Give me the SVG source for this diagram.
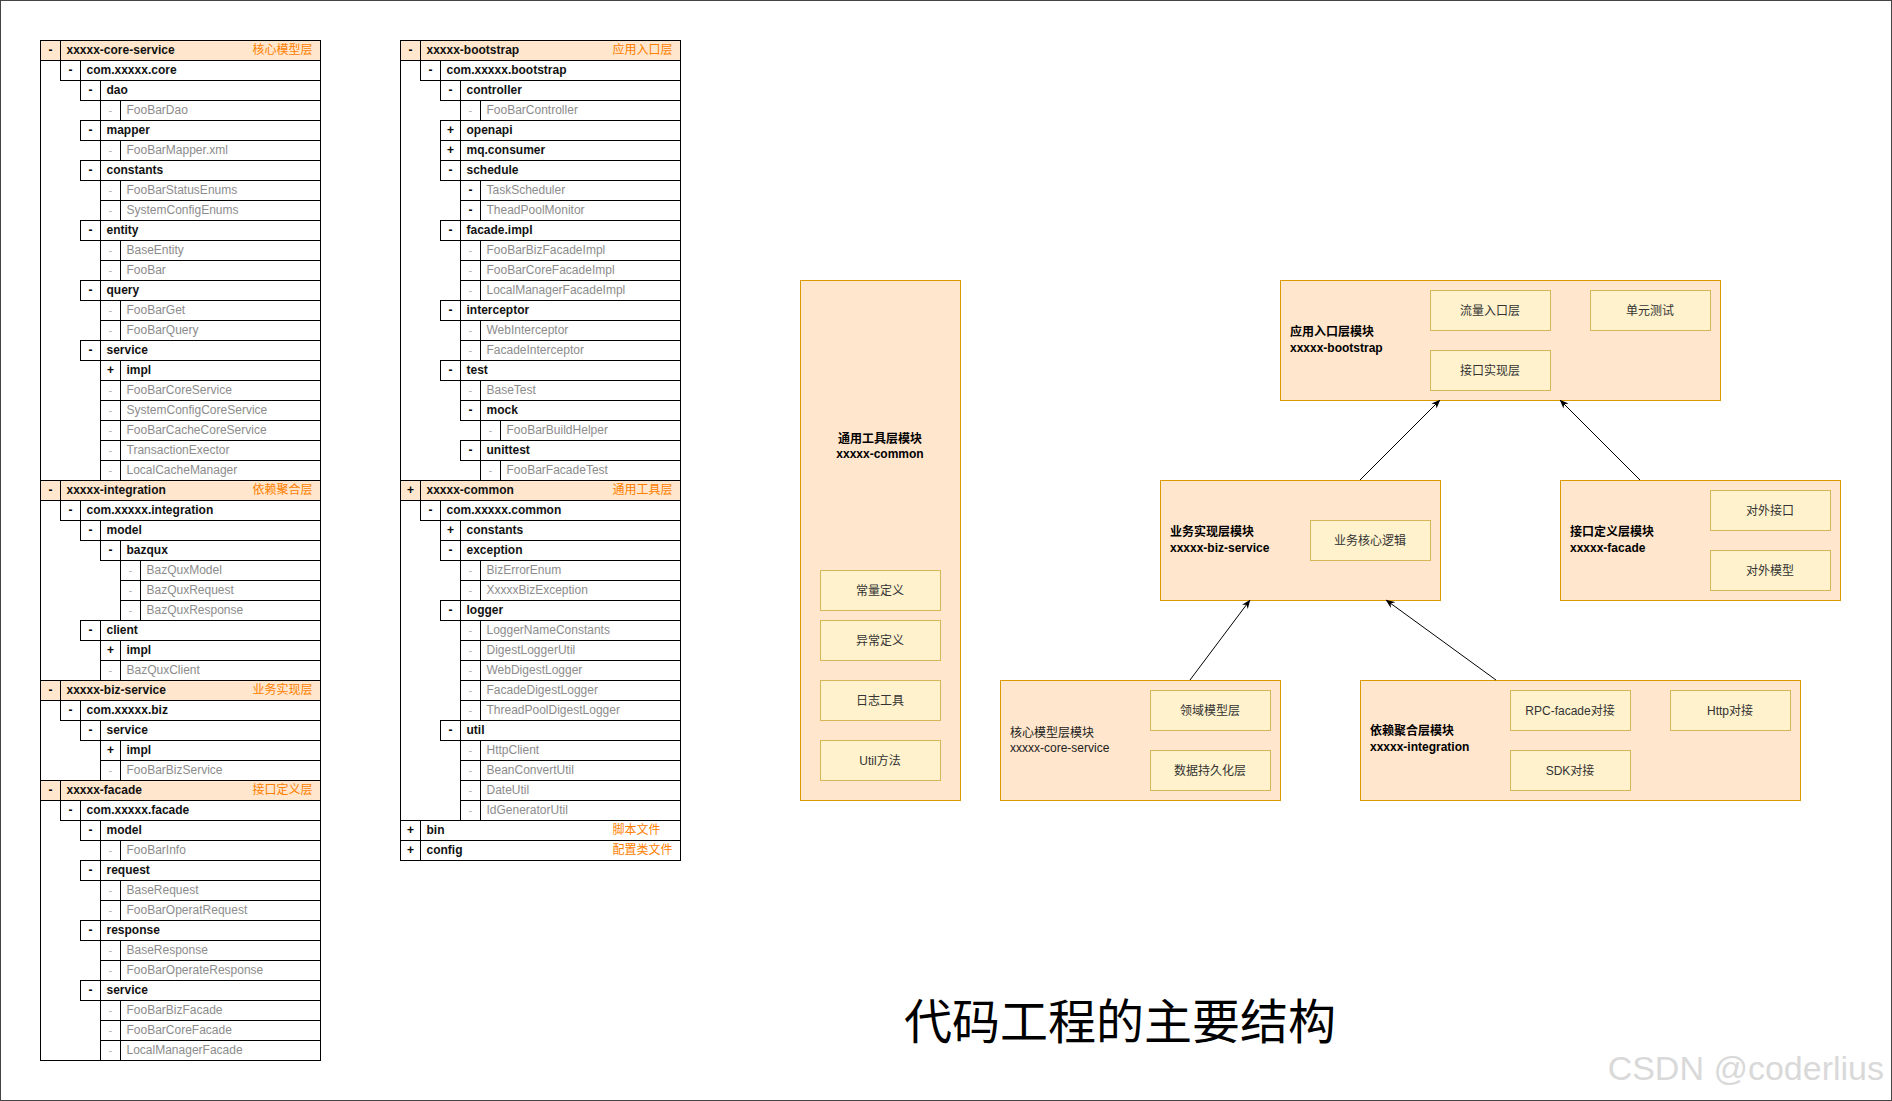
<svg xmlns="http://www.w3.org/2000/svg" width="1892" height="1101" viewBox="0 0 1892 1101">
<style>
text{font-family:"Liberation Sans","Noto Sans CJK SC",sans-serif;font-size:12px}
.row rect{fill:none;stroke:#000;stroke-width:1}
.row line{stroke:#000;stroke-width:1}
.hdr rect{fill:#FFE6CC}
.s{text-anchor:middle;font-weight:bold;fill:#000}
.sg{text-anchor:middle;fill:#aaa;font-size:10px}
.f{font-weight:bold;fill:#111}
.g{fill:#8c8c8c}
.cn{fill:#FF8000}
.frame{fill:none;stroke:#000;stroke-width:1}
.mod rect.o{fill:#FFE6CC;stroke:#D79B00;stroke-width:1}
.sub rect{fill:#FFF2CC;stroke:#D6B656;stroke-width:1}
.sub text{text-anchor:middle;fill:#333}
.lb{font-weight:bold;fill:#000}
.lr{fill:#222}
.conn line{stroke:#000;stroke-width:1}
</style>
<defs>
<marker id="arr" viewBox="0 0 10 10" refX="9.5" refY="5" markerWidth="9" markerHeight="9" orient="auto" markerUnits="userSpaceOnUse">
<path d="M0,1 L10,5 L0,9 L3,5 z" fill="#000"/>
</marker>
</defs>
<rect x="0.5" y="0.5" width="1891" height="1100" fill="#fff" stroke="#444"/>

<g id="tree-core-service">
<g id="t1-r0" class="row hdr" transform="translate(40.5,40.5)"><rect width="280" height="20"/><line x1="20" x2="20" y2="20"/><text class="s" x="10" y="13.5">-</text><text class="f" x="26" y="13.5">xxxxx-core-service</text><text class="cn" x="212" y="13.5">核心模型层</text></g>
<g id="t1-r1" class="row" transform="translate(60.5,60.5)"><rect width="260" height="20"/><line x1="20" x2="20" y2="20"/><text class="s" x="10" y="13.5">-</text><text class="f" x="26" y="13.5">com.xxxxx.core</text></g>
<g id="t1-r2" class="row" transform="translate(80.5,80.5)"><rect width="240" height="20"/><line x1="20" x2="20" y2="20"/><text class="s" x="10" y="13.5">-</text><text class="f" x="26" y="13.5">dao</text></g>
<g id="t1-r3" class="row" transform="translate(100.5,100.5)"><rect width="220" height="20"/><line x1="20" x2="20" y2="20"/><text class="sg" x="10" y="13.5">-</text><text class="g" x="26" y="13.5">FooBarDao</text></g>
<g id="t1-r4" class="row" transform="translate(80.5,120.5)"><rect width="240" height="20"/><line x1="20" x2="20" y2="20"/><text class="s" x="10" y="13.5">-</text><text class="f" x="26" y="13.5">mapper</text></g>
<g id="t1-r5" class="row" transform="translate(100.5,140.5)"><rect width="220" height="20"/><line x1="20" x2="20" y2="20"/><text class="sg" x="10" y="13.5">-</text><text class="g" x="26" y="13.5">FooBarMapper.xml</text></g>
<g id="t1-r6" class="row" transform="translate(80.5,160.5)"><rect width="240" height="20"/><line x1="20" x2="20" y2="20"/><text class="s" x="10" y="13.5">-</text><text class="f" x="26" y="13.5">constants</text></g>
<g id="t1-r7" class="row" transform="translate(100.5,180.5)"><rect width="220" height="20"/><line x1="20" x2="20" y2="20"/><text class="sg" x="10" y="13.5">-</text><text class="g" x="26" y="13.5">FooBarStatusEnums</text></g>
<g id="t1-r8" class="row" transform="translate(100.5,200.5)"><rect width="220" height="20"/><line x1="20" x2="20" y2="20"/><text class="sg" x="10" y="13.5">-</text><text class="g" x="26" y="13.5">SystemConfigEnums</text></g>
<g id="t1-r9" class="row" transform="translate(80.5,220.5)"><rect width="240" height="20"/><line x1="20" x2="20" y2="20"/><text class="s" x="10" y="13.5">-</text><text class="f" x="26" y="13.5">entity</text></g>
<g id="t1-r10" class="row" transform="translate(100.5,240.5)"><rect width="220" height="20"/><line x1="20" x2="20" y2="20"/><text class="sg" x="10" y="13.5">-</text><text class="g" x="26" y="13.5">BaseEntity</text></g>
<g id="t1-r11" class="row" transform="translate(100.5,260.5)"><rect width="220" height="20"/><line x1="20" x2="20" y2="20"/><text class="sg" x="10" y="13.5">-</text><text class="g" x="26" y="13.5">FooBar</text></g>
<g id="t1-r12" class="row" transform="translate(80.5,280.5)"><rect width="240" height="20"/><line x1="20" x2="20" y2="20"/><text class="s" x="10" y="13.5">-</text><text class="f" x="26" y="13.5">query</text></g>
<g id="t1-r13" class="row" transform="translate(100.5,300.5)"><rect width="220" height="20"/><line x1="20" x2="20" y2="20"/><text class="sg" x="10" y="13.5">-</text><text class="g" x="26" y="13.5">FooBarGet</text></g>
<g id="t1-r14" class="row" transform="translate(100.5,320.5)"><rect width="220" height="20"/><line x1="20" x2="20" y2="20"/><text class="sg" x="10" y="13.5">-</text><text class="g" x="26" y="13.5">FooBarQuery</text></g>
<g id="t1-r15" class="row" transform="translate(80.5,340.5)"><rect width="240" height="20"/><line x1="20" x2="20" y2="20"/><text class="s" x="10" y="13.5">-</text><text class="f" x="26" y="13.5">service</text></g>
<g id="t1-r16" class="row" transform="translate(100.5,360.5)"><rect width="220" height="20"/><line x1="20" x2="20" y2="20"/><text class="s" x="10" y="13.5">+</text><text class="f" x="26" y="13.5">impl</text></g>
<g id="t1-r17" class="row" transform="translate(100.5,380.5)"><rect width="220" height="20"/><line x1="20" x2="20" y2="20"/><text class="sg" x="10" y="13.5">-</text><text class="g" x="26" y="13.5">FooBarCoreService</text></g>
<g id="t1-r18" class="row" transform="translate(100.5,400.5)"><rect width="220" height="20"/><line x1="20" x2="20" y2="20"/><text class="sg" x="10" y="13.5">-</text><text class="g" x="26" y="13.5">SystemConfigCoreService</text></g>
<g id="t1-r19" class="row" transform="translate(100.5,420.5)"><rect width="220" height="20"/><line x1="20" x2="20" y2="20"/><text class="sg" x="10" y="13.5">-</text><text class="g" x="26" y="13.5">FooBarCacheCoreService</text></g>
<g id="t1-r20" class="row" transform="translate(100.5,440.5)"><rect width="220" height="20"/><line x1="20" x2="20" y2="20"/><text class="sg" x="10" y="13.5">-</text><text class="g" x="26" y="13.5">TransactionExector</text></g>
<g id="t1-r21" class="row" transform="translate(100.5,460.5)"><rect width="220" height="20"/><line x1="20" x2="20" y2="20"/><text class="sg" x="10" y="13.5">-</text><text class="g" x="26" y="13.5">LocalCacheManager</text></g>
<g id="t1-r22" class="row hdr" transform="translate(40.5,480.5)"><rect width="280" height="20"/><line x1="20" x2="20" y2="20"/><text class="s" x="10" y="13.5">-</text><text class="f" x="26" y="13.5">xxxxx-integration</text><text class="cn" x="212" y="13.5">依赖聚合层</text></g>
<g id="t1-r23" class="row" transform="translate(60.5,500.5)"><rect width="260" height="20"/><line x1="20" x2="20" y2="20"/><text class="s" x="10" y="13.5">-</text><text class="f" x="26" y="13.5">com.xxxxx.integration</text></g>
<g id="t1-r24" class="row" transform="translate(80.5,520.5)"><rect width="240" height="20"/><line x1="20" x2="20" y2="20"/><text class="s" x="10" y="13.5">-</text><text class="f" x="26" y="13.5">model</text></g>
<g id="t1-r25" class="row" transform="translate(100.5,540.5)"><rect width="220" height="20"/><line x1="20" x2="20" y2="20"/><text class="s" x="10" y="13.5">-</text><text class="f" x="26" y="13.5">bazqux</text></g>
<g id="t1-r26" class="row" transform="translate(120.5,560.5)"><rect width="200" height="20"/><line x1="20" x2="20" y2="20"/><text class="sg" x="10" y="13.5">-</text><text class="g" x="26" y="13.5">BazQuxModel</text></g>
<g id="t1-r27" class="row" transform="translate(120.5,580.5)"><rect width="200" height="20"/><line x1="20" x2="20" y2="20"/><text class="sg" x="10" y="13.5">-</text><text class="g" x="26" y="13.5">BazQuxRequest</text></g>
<g id="t1-r28" class="row" transform="translate(120.5,600.5)"><rect width="200" height="20"/><line x1="20" x2="20" y2="20"/><text class="sg" x="10" y="13.5">-</text><text class="g" x="26" y="13.5">BazQuxResponse</text></g>
<g id="t1-r29" class="row" transform="translate(80.5,620.5)"><rect width="240" height="20"/><line x1="20" x2="20" y2="20"/><text class="s" x="10" y="13.5">-</text><text class="f" x="26" y="13.5">client</text></g>
<g id="t1-r30" class="row" transform="translate(100.5,640.5)"><rect width="220" height="20"/><line x1="20" x2="20" y2="20"/><text class="s" x="10" y="13.5">+</text><text class="f" x="26" y="13.5">impl</text></g>
<g id="t1-r31" class="row" transform="translate(100.5,660.5)"><rect width="220" height="20"/><line x1="20" x2="20" y2="20"/><text class="sg" x="10" y="13.5">-</text><text class="g" x="26" y="13.5">BazQuxClient</text></g>
<g id="t1-r32" class="row hdr" transform="translate(40.5,680.5)"><rect width="280" height="20"/><line x1="20" x2="20" y2="20"/><text class="s" x="10" y="13.5">-</text><text class="f" x="26" y="13.5">xxxxx-biz-service</text><text class="cn" x="212" y="13.5">业务实现层</text></g>
<g id="t1-r33" class="row" transform="translate(60.5,700.5)"><rect width="260" height="20"/><line x1="20" x2="20" y2="20"/><text class="s" x="10" y="13.5">-</text><text class="f" x="26" y="13.5">com.xxxxx.biz</text></g>
<g id="t1-r34" class="row" transform="translate(80.5,720.5)"><rect width="240" height="20"/><line x1="20" x2="20" y2="20"/><text class="s" x="10" y="13.5">-</text><text class="f" x="26" y="13.5">service</text></g>
<g id="t1-r35" class="row" transform="translate(100.5,740.5)"><rect width="220" height="20"/><line x1="20" x2="20" y2="20"/><text class="s" x="10" y="13.5">+</text><text class="f" x="26" y="13.5">impl</text></g>
<g id="t1-r36" class="row" transform="translate(100.5,760.5)"><rect width="220" height="20"/><line x1="20" x2="20" y2="20"/><text class="sg" x="10" y="13.5">-</text><text class="g" x="26" y="13.5">FooBarBizService</text></g>
<g id="t1-r37" class="row hdr" transform="translate(40.5,780.5)"><rect width="280" height="20"/><line x1="20" x2="20" y2="20"/><text class="s" x="10" y="13.5">-</text><text class="f" x="26" y="13.5">xxxxx-facade</text><text class="cn" x="212" y="13.5">接口定义层</text></g>
<g id="t1-r38" class="row" transform="translate(60.5,800.5)"><rect width="260" height="20"/><line x1="20" x2="20" y2="20"/><text class="s" x="10" y="13.5">-</text><text class="f" x="26" y="13.5">com.xxxxx.facade</text></g>
<g id="t1-r39" class="row" transform="translate(80.5,820.5)"><rect width="240" height="20"/><line x1="20" x2="20" y2="20"/><text class="s" x="10" y="13.5">-</text><text class="f" x="26" y="13.5">model</text></g>
<g id="t1-r40" class="row" transform="translate(100.5,840.5)"><rect width="220" height="20"/><line x1="20" x2="20" y2="20"/><text class="sg" x="10" y="13.5">-</text><text class="g" x="26" y="13.5">FooBarInfo</text></g>
<g id="t1-r41" class="row" transform="translate(80.5,860.5)"><rect width="240" height="20"/><line x1="20" x2="20" y2="20"/><text class="s" x="10" y="13.5">-</text><text class="f" x="26" y="13.5">request</text></g>
<g id="t1-r42" class="row" transform="translate(100.5,880.5)"><rect width="220" height="20"/><line x1="20" x2="20" y2="20"/><text class="sg" x="10" y="13.5">-</text><text class="g" x="26" y="13.5">BaseRequest</text></g>
<g id="t1-r43" class="row" transform="translate(100.5,900.5)"><rect width="220" height="20"/><line x1="20" x2="20" y2="20"/><text class="sg" x="10" y="13.5">-</text><text class="g" x="26" y="13.5">FooBarOperatRequest</text></g>
<g id="t1-r44" class="row" transform="translate(80.5,920.5)"><rect width="240" height="20"/><line x1="20" x2="20" y2="20"/><text class="s" x="10" y="13.5">-</text><text class="f" x="26" y="13.5">response</text></g>
<g id="t1-r45" class="row" transform="translate(100.5,940.5)"><rect width="220" height="20"/><line x1="20" x2="20" y2="20"/><text class="sg" x="10" y="13.5">-</text><text class="g" x="26" y="13.5">BaseResponse</text></g>
<g id="t1-r46" class="row" transform="translate(100.5,960.5)"><rect width="220" height="20"/><line x1="20" x2="20" y2="20"/><text class="sg" x="10" y="13.5">-</text><text class="g" x="26" y="13.5">FooBarOperateResponse</text></g>
<g id="t1-r47" class="row" transform="translate(80.5,980.5)"><rect width="240" height="20"/><line x1="20" x2="20" y2="20"/><text class="s" x="10" y="13.5">-</text><text class="f" x="26" y="13.5">service</text></g>
<g id="t1-r48" class="row" transform="translate(100.5,1000.5)"><rect width="220" height="20"/><line x1="20" x2="20" y2="20"/><text class="sg" x="10" y="13.5">-</text><text class="g" x="26" y="13.5">FooBarBizFacade</text></g>
<g id="t1-r49" class="row" transform="translate(100.5,1020.5)"><rect width="220" height="20"/><line x1="20" x2="20" y2="20"/><text class="sg" x="10" y="13.5">-</text><text class="g" x="26" y="13.5">FooBarCoreFacade</text></g>
<g id="t1-r50" class="row" transform="translate(100.5,1040.5)"><rect width="220" height="20"/><line x1="20" x2="20" y2="20"/><text class="sg" x="10" y="13.5">-</text><text class="g" x="26" y="13.5">LocalManagerFacade</text></g>
<rect class="frame" x="40.5" y="40.5" width="280" height="1020"/>
</g>

<g id="tree-bootstrap">
<g id="t2-r0" class="row hdr" transform="translate(400.5,40.5)"><rect width="280" height="20"/><line x1="20" x2="20" y2="20"/><text class="s" x="10" y="13.5">-</text><text class="f" x="26" y="13.5">xxxxx-bootstrap</text><text class="cn" x="212" y="13.5">应用入口层</text></g>
<g id="t2-r1" class="row" transform="translate(420.5,60.5)"><rect width="260" height="20"/><line x1="20" x2="20" y2="20"/><text class="s" x="10" y="13.5">-</text><text class="f" x="26" y="13.5">com.xxxxx.bootstrap</text></g>
<g id="t2-r2" class="row" transform="translate(440.5,80.5)"><rect width="240" height="20"/><line x1="20" x2="20" y2="20"/><text class="s" x="10" y="13.5">-</text><text class="f" x="26" y="13.5">controller</text></g>
<g id="t2-r3" class="row" transform="translate(460.5,100.5)"><rect width="220" height="20"/><line x1="20" x2="20" y2="20"/><text class="sg" x="10" y="13.5">-</text><text class="g" x="26" y="13.5">FooBarController</text></g>
<g id="t2-r4" class="row" transform="translate(440.5,120.5)"><rect width="240" height="20"/><line x1="20" x2="20" y2="20"/><text class="s" x="10" y="13.5">+</text><text class="f" x="26" y="13.5">openapi</text></g>
<g id="t2-r5" class="row" transform="translate(440.5,140.5)"><rect width="240" height="20"/><line x1="20" x2="20" y2="20"/><text class="s" x="10" y="13.5">+</text><text class="f" x="26" y="13.5">mq.consumer</text></g>
<g id="t2-r6" class="row" transform="translate(440.5,160.5)"><rect width="240" height="20"/><line x1="20" x2="20" y2="20"/><text class="s" x="10" y="13.5">-</text><text class="f" x="26" y="13.5">schedule</text></g>
<g id="t2-r7" class="row" transform="translate(460.5,180.5)"><rect width="220" height="20"/><line x1="20" x2="20" y2="20"/><text class="s" x="10" y="13.5">-</text><text class="g" x="26" y="13.5">TaskScheduler</text></g>
<g id="t2-r8" class="row" transform="translate(460.5,200.5)"><rect width="220" height="20"/><line x1="20" x2="20" y2="20"/><text class="s" x="10" y="13.5">-</text><text class="g" x="26" y="13.5">TheadPoolMonitor</text></g>
<g id="t2-r9" class="row" transform="translate(440.5,220.5)"><rect width="240" height="20"/><line x1="20" x2="20" y2="20"/><text class="s" x="10" y="13.5">-</text><text class="f" x="26" y="13.5">facade.impl</text></g>
<g id="t2-r10" class="row" transform="translate(460.5,240.5)"><rect width="220" height="20"/><line x1="20" x2="20" y2="20"/><text class="sg" x="10" y="13.5">-</text><text class="g" x="26" y="13.5">FooBarBizFacadeImpl</text></g>
<g id="t2-r11" class="row" transform="translate(460.5,260.5)"><rect width="220" height="20"/><line x1="20" x2="20" y2="20"/><text class="sg" x="10" y="13.5">-</text><text class="g" x="26" y="13.5">FooBarCoreFacadeImpl</text></g>
<g id="t2-r12" class="row" transform="translate(460.5,280.5)"><rect width="220" height="20"/><line x1="20" x2="20" y2="20"/><text class="sg" x="10" y="13.5">-</text><text class="g" x="26" y="13.5">LocalManagerFacadeImpl</text></g>
<g id="t2-r13" class="row" transform="translate(440.5,300.5)"><rect width="240" height="20"/><line x1="20" x2="20" y2="20"/><text class="s" x="10" y="13.5">-</text><text class="f" x="26" y="13.5">interceptor</text></g>
<g id="t2-r14" class="row" transform="translate(460.5,320.5)"><rect width="220" height="20"/><line x1="20" x2="20" y2="20"/><text class="sg" x="10" y="13.5">-</text><text class="g" x="26" y="13.5">WebInterceptor</text></g>
<g id="t2-r15" class="row" transform="translate(460.5,340.5)"><rect width="220" height="20"/><line x1="20" x2="20" y2="20"/><text class="sg" x="10" y="13.5">-</text><text class="g" x="26" y="13.5">FacadeInterceptor</text></g>
<g id="t2-r16" class="row" transform="translate(440.5,360.5)"><rect width="240" height="20"/><line x1="20" x2="20" y2="20"/><text class="s" x="10" y="13.5">-</text><text class="f" x="26" y="13.5">test</text></g>
<g id="t2-r17" class="row" transform="translate(460.5,380.5)"><rect width="220" height="20"/><line x1="20" x2="20" y2="20"/><text class="sg" x="10" y="13.5">-</text><text class="g" x="26" y="13.5">BaseTest</text></g>
<g id="t2-r18" class="row" transform="translate(460.5,400.5)"><rect width="220" height="20"/><line x1="20" x2="20" y2="20"/><text class="s" x="10" y="13.5">-</text><text class="f" x="26" y="13.5">mock</text></g>
<g id="t2-r19" class="row" transform="translate(480.5,420.5)"><rect width="200" height="20"/><line x1="20" x2="20" y2="20"/><text class="sg" x="10" y="13.5">-</text><text class="g" x="26" y="13.5">FooBarBuildHelper</text></g>
<g id="t2-r20" class="row" transform="translate(460.5,440.5)"><rect width="220" height="20"/><line x1="20" x2="20" y2="20"/><text class="s" x="10" y="13.5">-</text><text class="f" x="26" y="13.5">unittest</text></g>
<g id="t2-r21" class="row" transform="translate(480.5,460.5)"><rect width="200" height="20"/><line x1="20" x2="20" y2="20"/><text class="sg" x="10" y="13.5">-</text><text class="g" x="26" y="13.5">FooBarFacadeTest</text></g>
<g id="t2-r22" class="row hdr" transform="translate(400.5,480.5)"><rect width="280" height="20"/><line x1="20" x2="20" y2="20"/><text class="s" x="10" y="13.5">+</text><text class="f" x="26" y="13.5">xxxxx-common</text><text class="cn" x="212" y="13.5">通用工具层</text></g>
<g id="t2-r23" class="row" transform="translate(420.5,500.5)"><rect width="260" height="20"/><line x1="20" x2="20" y2="20"/><text class="s" x="10" y="13.5">-</text><text class="f" x="26" y="13.5">com.xxxxx.common</text></g>
<g id="t2-r24" class="row" transform="translate(440.5,520.5)"><rect width="240" height="20"/><line x1="20" x2="20" y2="20"/><text class="s" x="10" y="13.5">+</text><text class="f" x="26" y="13.5">constants</text></g>
<g id="t2-r25" class="row" transform="translate(440.5,540.5)"><rect width="240" height="20"/><line x1="20" x2="20" y2="20"/><text class="s" x="10" y="13.5">-</text><text class="f" x="26" y="13.5">exception</text></g>
<g id="t2-r26" class="row" transform="translate(460.5,560.5)"><rect width="220" height="20"/><line x1="20" x2="20" y2="20"/><text class="sg" x="10" y="13.5">-</text><text class="g" x="26" y="13.5">BizErrorEnum</text></g>
<g id="t2-r27" class="row" transform="translate(460.5,580.5)"><rect width="220" height="20"/><line x1="20" x2="20" y2="20"/><text class="sg" x="10" y="13.5">-</text><text class="g" x="26" y="13.5">XxxxxBizException</text></g>
<g id="t2-r28" class="row" transform="translate(440.5,600.5)"><rect width="240" height="20"/><line x1="20" x2="20" y2="20"/><text class="s" x="10" y="13.5">-</text><text class="f" x="26" y="13.5">logger</text></g>
<g id="t2-r29" class="row" transform="translate(460.5,620.5)"><rect width="220" height="20"/><line x1="20" x2="20" y2="20"/><text class="sg" x="10" y="13.5">-</text><text class="g" x="26" y="13.5">LoggerNameConstants</text></g>
<g id="t2-r30" class="row" transform="translate(460.5,640.5)"><rect width="220" height="20"/><line x1="20" x2="20" y2="20"/><text class="sg" x="10" y="13.5">-</text><text class="g" x="26" y="13.5">DigestLoggerUtil</text></g>
<g id="t2-r31" class="row" transform="translate(460.5,660.5)"><rect width="220" height="20"/><line x1="20" x2="20" y2="20"/><text class="sg" x="10" y="13.5">-</text><text class="g" x="26" y="13.5">WebDigestLogger</text></g>
<g id="t2-r32" class="row" transform="translate(460.5,680.5)"><rect width="220" height="20"/><line x1="20" x2="20" y2="20"/><text class="sg" x="10" y="13.5">-</text><text class="g" x="26" y="13.5">FacadeDigestLogger</text></g>
<g id="t2-r33" class="row" transform="translate(460.5,700.5)"><rect width="220" height="20"/><line x1="20" x2="20" y2="20"/><text class="sg" x="10" y="13.5">-</text><text class="g" x="26" y="13.5">ThreadPoolDigestLogger</text></g>
<g id="t2-r34" class="row" transform="translate(440.5,720.5)"><rect width="240" height="20"/><line x1="20" x2="20" y2="20"/><text class="s" x="10" y="13.5">-</text><text class="f" x="26" y="13.5">util</text></g>
<g id="t2-r35" class="row" transform="translate(460.5,740.5)"><rect width="220" height="20"/><line x1="20" x2="20" y2="20"/><text class="sg" x="10" y="13.5">-</text><text class="g" x="26" y="13.5">HttpClient</text></g>
<g id="t2-r36" class="row" transform="translate(460.5,760.5)"><rect width="220" height="20"/><line x1="20" x2="20" y2="20"/><text class="sg" x="10" y="13.5">-</text><text class="g" x="26" y="13.5">BeanConvertUtil</text></g>
<g id="t2-r37" class="row" transform="translate(460.5,780.5)"><rect width="220" height="20"/><line x1="20" x2="20" y2="20"/><text class="sg" x="10" y="13.5">-</text><text class="g" x="26" y="13.5">DateUtil</text></g>
<g id="t2-r38" class="row" transform="translate(460.5,800.5)"><rect width="220" height="20"/><line x1="20" x2="20" y2="20"/><text class="sg" x="10" y="13.5">-</text><text class="g" x="26" y="13.5">IdGeneratorUtil</text></g>
<g id="t2-r39" class="row" transform="translate(400.5,820.5)"><rect width="280" height="20"/><line x1="20" x2="20" y2="20"/><text class="s" x="10" y="13.5">+</text><text class="f" x="26" y="13.5">bin</text><text class="cn" x="212" y="13.5">脚本文件</text></g>
<g id="t2-r40" class="row" transform="translate(400.5,840.5)"><rect width="280" height="20"/><line x1="20" x2="20" y2="20"/><text class="s" x="10" y="13.5">+</text><text class="f" x="26" y="13.5">config</text><text class="cn" x="212" y="13.5">配置类文件</text></g>
<rect class="frame" x="400.5" y="40.5" width="280" height="820"/>
</g>

<g id="mod-common" class="mod">
<rect class="o" x="800.5" y="280.5" width="160" height="520"/>
<text class="lb" x="880" y="443" text-anchor="middle">通用工具层模块</text>
<text class="lb" x="880" y="458" text-anchor="middle">xxxxx-common</text>
<g id="sub-const" class="sub"><rect x="820.5" y="570.5" width="120" height="40"/><text x="880" y="594.5">常量定义</text></g>
<g id="sub-except" class="sub"><rect x="820.5" y="620.5" width="120" height="40"/><text x="880" y="644.5">异常定义</text></g>
<g id="sub-log" class="sub"><rect x="820.5" y="680.5" width="120" height="40"/><text x="880" y="704.5">日志工具</text></g>
<g id="sub-util" class="sub"><rect x="820.5" y="740.5" width="120" height="40"/><text x="880" y="764.5">Util方法</text></g>
</g>

<g id="mod-bootstrap" class="mod">
<rect class="o" x="1280.5" y="280.5" width="440" height="120"/>
<text class="lb" x="1290" y="336">应用入口层模块</text>
<text class="lb" x="1290" y="352">xxxxx-bootstrap</text>
<g id="sub-traffic" class="sub"><rect x="1430.5" y="290.5" width="120" height="40"/><text x="1490" y="314.5">流量入口层</text></g>
<g id="sub-unittest" class="sub"><rect x="1590.5" y="290.5" width="120" height="40"/><text x="1650" y="314.5">单元测试</text></g>
<g id="sub-ifimpl" class="sub"><rect x="1430.5" y="350.5" width="120" height="40"/><text x="1490" y="374.5">接口实现层</text></g>
</g>

<g id="mod-biz" class="mod">
<rect class="o" x="1160.5" y="480.5" width="280" height="120"/>
<text class="lb" x="1170" y="536">业务实现层模块</text>
<text class="lb" x="1170" y="552">xxxxx-biz-service</text>
<g id="sub-bizlogic" class="sub"><rect x="1310.5" y="520.5" width="120" height="40"/><text x="1370" y="544.5">业务核心逻辑</text></g>
</g>

<g id="mod-facade" class="mod">
<rect class="o" x="1560.5" y="480.5" width="280" height="120"/>
<text class="lb" x="1570" y="536">接口定义层模块</text>
<text class="lb" x="1570" y="552">xxxxx-facade</text>
<g id="sub-extif" class="sub"><rect x="1710.5" y="490.5" width="120" height="40"/><text x="1770" y="514.5">对外接口</text></g>
<g id="sub-extmodel" class="sub"><rect x="1710.5" y="550.5" width="120" height="40"/><text x="1770" y="574.5">对外模型</text></g>
</g>

<g id="mod-core" class="mod">
<rect class="o" x="1000.5" y="680.5" width="280" height="120"/>
<text class="lr" x="1010" y="736.5">核心模型层模块</text>
<text class="lr" x="1010" y="752">xxxxx-core-service</text>
<g id="sub-domain" class="sub"><rect x="1150.5" y="690.5" width="120" height="40"/><text x="1210" y="714.5">领域模型层</text></g>
<g id="sub-persist" class="sub"><rect x="1150.5" y="750.5" width="120" height="40"/><text x="1210" y="774.5">数据持久化层</text></g>
</g>

<g id="mod-integration" class="mod">
<rect class="o" x="1360.5" y="680.5" width="440" height="120"/>
<text class="lb" x="1370" y="735">依赖聚合层模块</text>
<text class="lb" x="1370" y="751">xxxxx-integration</text>
<g id="sub-rpc" class="sub"><rect x="1510.5" y="690.5" width="120" height="40"/><text x="1570" y="714.5">RPC-facade对接</text></g>
<g id="sub-http" class="sub"><rect x="1670.5" y="690.5" width="120" height="40"/><text x="1730" y="714.5">Http对接</text></g>
<g id="sub-sdk" class="sub"><rect x="1510.5" y="750.5" width="120" height="40"/><text x="1570" y="774.5">SDK对接</text></g>
</g>

<g id="connectors" class="conn">
<line x1="1360" y1="480" x2="1440" y2="400" marker-end="url(#arr)"/>
<line x1="1640" y1="480" x2="1560" y2="400" marker-end="url(#arr)"/>
<line x1="1190" y1="680" x2="1250" y2="600" marker-end="url(#arr)"/>
<line x1="1496" y1="680" x2="1386" y2="600" marker-end="url(#arr)"/>
</g>

<text id="title" x="1120" y="1039" text-anchor="middle" style="font-family:'Noto Sans CJK SC',sans-serif;font-size:48px;fill:#000">代码工程的主要结构</text>
<text id="watermark" x="1884" y="1080" text-anchor="end" style="font-size:34px;fill:#d9d9d9">CSDN @coderlius</text>
</svg>
